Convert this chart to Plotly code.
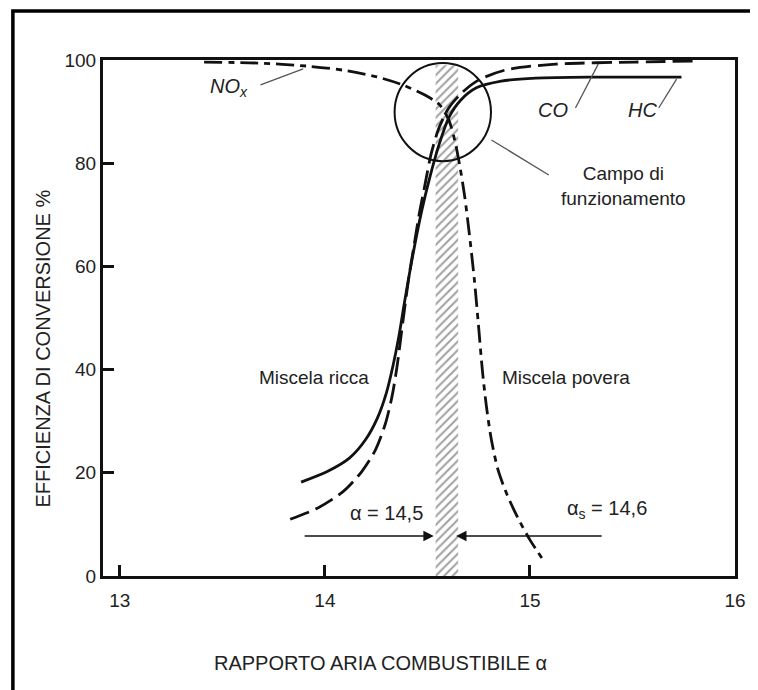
import plotly.graph_objects as go

# ---- data ----
hc_x = [13.884, 14.014, 14.121, 14.198, 14.256, 14.300, 14.333, 14.362, 14.386, 14.411,
        14.440, 14.473, 14.512, 14.556, 14.604, 14.662, 14.739, 14.860, 15.029, 15.319, 15.739]
hc_y = [18.2, 20.3, 22.9, 26.4, 30.6, 35.5, 40.9, 46.7, 52.5, 58.3,
        64.5, 70.9, 77.3, 83.5, 88.8, 92.2, 94.6, 95.9, 96.5, 96.7, 96.7]

co_x = [13.831, 13.966, 14.087, 14.179, 14.246, 14.295, 14.329, 14.353, 14.372, 14.391,
        14.411, 14.435, 14.459, 14.488, 14.517, 14.556, 14.604, 14.667, 14.749, 14.884,
        15.126, 15.512, 15.816]
co_y = [11.0, 13.2, 16.3, 20.2, 24.4, 29.5, 35.1, 40.9, 46.7, 52.5,
        58.3, 64.1, 69.9, 75.8, 81.6, 86.8, 90.7, 93.6, 96.1, 98.1,
        99.2, 99.6, 99.8]

nox_x = [13.411, 13.676, 13.918, 14.111, 14.256, 14.377, 14.488, 14.560, 14.604, 14.633,
         14.657, 14.681, 14.705, 14.729, 14.749, 14.768, 14.787, 14.812, 14.845, 14.889,
         14.942, 15.000, 15.058]
nox_y = [99.6, 99.4, 98.8, 97.9, 96.7, 95.2, 93.2, 91.3, 88.4, 84.5,
         79.7, 73.8, 66.1, 57.4, 48.6, 39.9, 33.1, 26.4, 20.5, 15.7,
         11.2, 7.0, 3.5]

band_x = [14.54, 14.65]           # hatched operating band (alpha)
band_top = 99.0
circle_x = [14.340, 14.810]       # "Campo di funzionamento" circle
circle_y = [80.4, 99.4]

x_ticks = [13, 14, 15, 16]
y_ticks = [0, 20, 40, 60, 80, 100]

arrow_y = 7.75
arrow_left = [13.894, 14.531]     # tail, head
arrow_right = [15.357, 14.640]    # tail, head

# label anchors (data coords) and leader lines
nox_lab = [13.531, 94.6]; nox_lead = [[13.686, 95.2], [13.894, 98.3]]
co_lab = [15.111, 90.3];  co_lead = [[15.222, 90.7], [15.333, 99.2]]
hc_lab = [15.551, 90.3];  hc_lead = [[15.628, 90.7], [15.715, 96.3]]
campo_lab = [15.14, 75.6]; campo_lead = [[14.812, 84.5], [15.092, 77.7]]
ricca_lab = [13.947, 38.4]
povera_lab = [15.174, 38.4]
a1_lab = [14.30, 12.2]
a2_lab = [15.377, 12.8]

FONT = "Liberation Sans, Arial, Helvetica, sans-serif"
INK = "#111111"
TXT = "#222222"

fig = go.Figure()

# hatched band
fig.add_trace(go.Scatter(
    x=[band_x[0], band_x[1], band_x[1], band_x[0], band_x[0]],
    y=[0, 0, band_top, band_top, 0],
    mode="lines", line=dict(width=0), fill="toself",
    fillcolor="rgba(0,0,0,0)",
    fillpattern=dict(shape="/", fgcolor="#444444", bgcolor="white", size=6, solidity=0.35),
    hoverinfo="skip", showlegend=False))

fig.add_trace(go.Scatter(x=nox_x, y=nox_y, mode="lines",
                         line=dict(color=INK, width=2.8, dash="18px,6px,6px,6px", shape="spline", smoothing=0.8),
                         showlegend=False))
fig.add_trace(go.Scatter(x=co_x, y=co_y, mode="lines",
                         line=dict(color=INK, width=2.8, dash="20px,7px", shape="spline", smoothing=0.8),
                         showlegend=False))
fig.add_trace(go.Scatter(x=hc_x, y=hc_y, mode="lines",
                         line=dict(color=INK, width=2.8, shape="spline", smoothing=0.8),
                         showlegend=False))

shapes = []
shapes.append(dict(type="circle", xref="x", yref="y", x0=circle_x[0], x1=circle_x[1],
                   y0=circle_y[0], y1=circle_y[1], line=dict(color=INK, width=2)))
for lead in [nox_lead, co_lead, hc_lead, campo_lead]:
    shapes.append(dict(type="line", xref="x", yref="y", x0=lead[0][0], y0=lead[0][1],
                       x1=lead[1][0], y1=lead[1][1], line=dict(color="#555555", width=1.3)))
# outer frame of the figure
shapes.append(dict(type="rect", xref="paper", yref="paper", x0=-0.1426, x1=1.25, y0=-0.4, y1=1.095,
                   line=dict(color="black", width=3.5), layer="below"))
fig.update_layout(shapes=shapes)

ann = []
def txt(p, s, size=20, italic=False, xanchor="center"):
    if italic:
        s = "<i>" + s + "</i>"
    ann.append(dict(x=p[0], y=p[1], xref="x", yref="y", text=s, showarrow=False,
                    xanchor=xanchor, yanchor="middle", font=dict(family=FONT, size=size, color=TXT)))

txt(nox_lab, "NO<sub>x</sub>", italic=True)
txt(co_lab, "CO", italic=True)
txt(hc_lab, "HC", italic=True)
txt(campo_lab, "Campo di<br>funzionamento", xanchor="left", size=19)
txt(ricca_lab, "Miscela ricca", size=19)
txt(povera_lab, "Miscela povera", size=19)
txt(a1_lab, "α = 14,5")
txt(a2_lab, "α<sub>s</sub> = 14,6")

for tail, head in [arrow_left, arrow_right]:
    ann.append(dict(x=head, y=arrow_y, ax=tail, ay=arrow_y, xref="x", yref="y", axref="x", ayref="y",
                    text="", showarrow=True, arrowhead=2, arrowsize=1.3, arrowwidth=1.6, arrowcolor=INK))

# axis titles
ann.append(dict(x=-0.0956, y=0.44, xref="paper", yref="paper", text="EFFICIENZA DI CONVERSIONE %",
                textangle=-90, showarrow=False, xanchor="center", yanchor="middle",
                font=dict(family=FONT, size=20, color=TXT)))
ann.append(dict(x=0.439, y=-0.169, xref="paper", yref="paper", text="RAPPORTO ARIA COMBUSTIBILE α",
                showarrow=False, xanchor="center", yanchor="middle",
                font=dict(family=FONT, size=20, color=TXT)))
fig.update_layout(annotations=ann)

fig.update_xaxes(range=[12.918, 16.0], tickvals=x_ticks, ticktext=[str(v) for v in x_ticks],
                 ticks="inside", ticklen=11, tickwidth=2.5, tickcolor=INK,
                 showline=True, linewidth=3, linecolor=INK, mirror=True,
                 showgrid=False, zeroline=False,
                 tickfont=dict(family=FONT, size=19, color=TXT), ticklabelstandoff=5)
fig.update_yaxes(range=[0, 100], tickvals=y_ticks, ticktext=[str(v) for v in y_ticks],
                 ticks="inside", ticklen=11, tickwidth=2.5, tickcolor=INK,
                 showline=True, linewidth=3, linecolor=INK, mirror=True,
                 showgrid=False, zeroline=False,
                 tickfont=dict(family=FONT, size=19, color=TXT), ticklabelstandoff=0)

# the page adds an 8px body margin, so the figure is 8px smaller and margins shifted accordingly
fig.update_layout(width=750, height=682, margin=dict(l=95, r=17, t=52, b=114),
                  plot_bgcolor="white", paper_bgcolor="white", showlegend=False)

fig.write_html("out.html")
